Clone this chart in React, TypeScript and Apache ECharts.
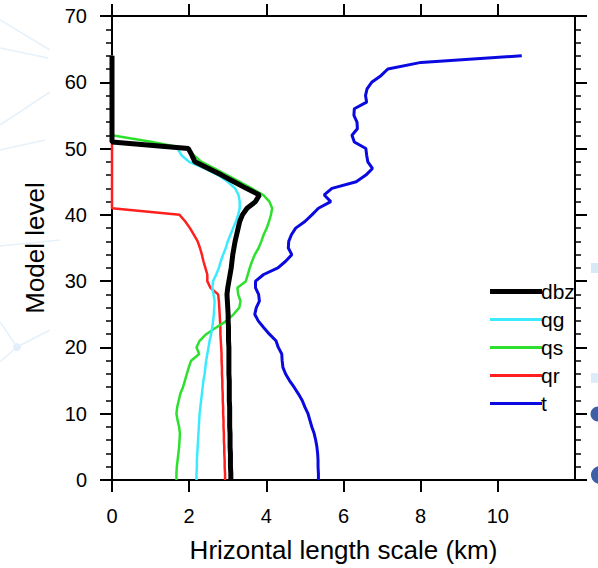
import React, { useEffect, useRef } from "react";
import * as echarts from "echarts";

// Model levels (y values)
const levels = [
  0, 1, 2, 3, 4, 5, 6, 7, 8, 9, 10, 11, 12, 13, 14, 15, 16, 17, 18, 19, 20,
  21, 22, 23, 24, 25, 26, 27, 28, 29, 30, 31, 32, 33, 34, 35, 36, 37, 38, 39,
  40, 41, 42, 43, 44, 45, 46, 47, 48, 49, 50, 51, 52, 53, 54, 55, 56, 57, 58,
  59, 60, 61, 62, 63, 64,
];

// Horizontal length scale (km) per model level
const dbz = [
  3.08, 3.08, 3.07, 3.07, 3.07, 3.06, 3.06, 3.06, 3.05, 3.05, 3.05, 3.05, 3.04,
  3.04, 3.04, 3.04, 3.03, 3.03, 3.03, 3.03, 3.03, 3.02, 3.02, 3.02, 3.01, 3.01,
  3.0, 2.99, 2.98, 3.0, 3.03, 3.06, 3.09, 3.11, 3.13, 3.16, 3.19, 3.23, 3.27,
  3.31, 3.38, 3.5, 3.72, 3.82, 3.48, 3.16, 2.84, 2.5, 2.15, 2.07, 1.98, 0, 0,
  0, 0, 0, 0, 0, 0, 0, 0, 0, 0, 0, 0,
];
const qg = [
  2.19, 2.19, 2.2, 2.2, 2.21, 2.22, 2.23, 2.24, 2.25, 2.26, 2.27, 2.29, 2.31,
  2.33, 2.35, 2.37, 2.4, 2.42, 2.44, 2.47, 2.5, 2.53, 2.57, 2.6, 2.62, 2.64,
  2.65, 2.66, 2.63, 2.6, 2.62, 2.7, 2.77, 2.82, 2.88, 2.95, 3.0, 3.07, 3.14,
  3.21, 3.27, 3.31, 3.31, 3.28, 3.19, 3.0, 2.75, 2.4, 2.0, 1.8, 1.7, 0, 0, 0,
  0, 0, 0, 0, 0, 0, 0, 0, 0, 0, 0,
];
const qs = [
  1.67, 1.67, 1.68, 1.7, 1.72, 1.74, 1.75, 1.76, 1.74, 1.7, 1.67, 1.69, 1.73,
  1.77, 1.84, 1.89, 1.94, 1.99, 2.05, 2.26, 2.19, 2.27, 2.44, 2.7, 2.97, 3.15,
  3.3, 3.33, 3.27, 3.25, 3.47, 3.52, 3.57, 3.63, 3.7, 3.8, 3.87, 3.93, 4.01,
  4.07, 4.12, 4.15, 4.08, 3.92, 3.62, 3.3, 2.98, 2.65, 2.32, 2.12, 1.92, 1.04,
  0, 0, 0, 0, 0, 0, 0, 0, 0, 0, 0, 0, 0,
];
const qr = [
  2.93, 2.93, 2.92, 2.92, 2.91, 2.91, 2.9, 2.9, 2.89, 2.89, 2.88, 2.88, 2.87,
  2.87, 2.86, 2.86, 2.85, 2.85, 2.84, 2.84, 2.83, 2.82, 2.81, 2.81, 2.8, 2.79,
  2.78, 2.77, 2.75, 2.55, 2.47, 2.47, 2.42, 2.37, 2.33, 2.28, 2.22, 2.12, 2.02,
  1.9, 1.75, 0, 0, 0, 0, 0, 0, 0, 0, 0, 0, 0, 0, 0, 0, 0, 0, 0, 0, 0, 0, 0, 0,
  0, 0,
];
const t = [
  5.35, 5.35, 5.34, 5.34, 5.33, 5.31, 5.28, 5.24, 5.18, 5.13, 5.08, 5.0, 4.93,
  4.83, 4.72, 4.6, 4.5, 4.43, 4.41, 4.4, 4.31, 4.25, 4.08, 3.93, 3.79, 3.7,
  3.74, 3.82, 3.8, 3.72, 3.72, 3.93, 4.3, 4.5, 4.66, 4.57, 4.58, 4.65, 4.76,
  5.0, 5.18, 5.35, 5.67, 5.5, 5.7, 6.33, 6.58, 6.75, 6.63, 6.6, 6.58, 6.28,
  6.22, 6.36, 6.35, 6.27, 6.28, 6.6, 6.57, 6.61, 6.73, 6.97, 7.15, 8.01, 10.62,
];

const xTickValues = [0, 2, 4, 6, 8, 10];

export default function App() {
  const ref = useRef<HTMLDivElement>(null);

  useEffect(() => {
    const chart = echarts.init(ref.current!, null, { renderer: "svg" });
    const font = "'Liberation Sans', Arial, Helvetica, sans-serif";
    const pairs = (vals: number[]) => levels.map((lv, i) => [vals[i], lv]);
    const black = "#000";

    const xAxisBase = {
      type: "value",
      min: 0,
      max: 12,
      interval: 2,
      axisLine: { show: true, onZero: false, lineStyle: { color: black, width: 2 } },
      axisTick: {
        show: true,
        inside: false,
        length: 12,
        customValues: xTickValues,
        lineStyle: { color: black, width: 2 },
      },
      splitLine: { show: false },
    };
    const yAxisBase = {
      type: "value",
      min: 0,
      max: 70,
      interval: 10,
      axisLine: { show: true, onZero: false, lineStyle: { color: black, width: 2 } },
      axisTick: { show: true, inside: false, length: 12, lineStyle: { color: black, width: 2 } },
      minorTick: { show: true, splitNumber: 5, length: 6, lineStyle: { color: black, width: 1.5 } },
      splitLine: { show: false },
      minorSplitLine: { show: false },
    };

    const faint = "#e6f1fa";
    chart.setOption({
      animation: false,
      backgroundColor: "#ffffff",
      grid: { left: 112, right: 23, top: 16, bottom: 88, containLabel: false },
      graphic: [
        { type: "polyline", z: 0, shape: { points: [[0, 20], [50, 50]] }, style: { stroke: faint, lineWidth: 1.5, fill: null } },
        { type: "polyline", z: 0, shape: { points: [[0, 48], [48, 58]] }, style: { stroke: faint, lineWidth: 1.5, fill: null } },
        { type: "polyline", z: 0, shape: { points: [[0, 125], [50, 92]] }, style: { stroke: faint, lineWidth: 1.5, fill: null } },
        { type: "polyline", z: 0, shape: { points: [[0, 150], [45, 140]] }, style: { stroke: faint, lineWidth: 1.5, fill: null } },
        { type: "polyline", z: 0, shape: { points: [[0, 246], [60, 240]] }, style: { stroke: faint, lineWidth: 1.5, fill: null } },
        { type: "polyline", z: 0, shape: { points: [[0, 322], [17, 347], [0, 362]] }, style: { stroke: faint, lineWidth: 1.5, fill: null } },
        { type: "polyline", z: 0, shape: { points: [[17, 347], [50, 330]] }, style: { stroke: faint, lineWidth: 1.5, fill: null } },
        { type: "circle", z: 0, shape: { cx: 17, cy: 347, r: 4 }, style: { fill: "#e2effa" } },
        { type: "rect", z: 0, shape: { x: 591, y: 263, width: 10, height: 10 }, style: { fill: "#d6e9f7" } },
        { type: "rect", z: 0, shape: { x: 591, y: 373, width: 10, height: 10 }, style: { fill: "#dcecf8" } },
        { type: "circle", z: 0, shape: { cx: 598, cy: 414, r: 7.5 }, style: { fill: "#3d5fa8" } },
        { type: "circle", z: 0, shape: { cx: 600, cy: 475, r: 9 }, style: { fill: "#3d5fa8" } },
      ],
      legend: {
        orient: "vertical",
        left: 485,
        top: 276,
        itemWidth: 52,
        itemHeight: 6,
        itemGap: 7,
        selectedMode: false,
        textStyle: {
          fontSize: 21,
          lineHeight: 20,
          color: black,
          fontFamily: font,
          padding: [0, 0, 0, -6],
        },
        data: [
          { name: "dbz", icon: "path://M0,0H52V5H0Z" },
          { name: "qg", icon: "path://M0,0H52V3H0Z" },
          { name: "qs", icon: "path://M0,0H52V3H0Z" },
          { name: "qr", icon: "path://M0,0H52V3H0Z" },
          { name: "t", icon: "path://M0,0H52V3H0Z" },
        ],
      },
      xAxis: [
        {
          ...xAxisBase,
          position: "bottom",
          axisLabel: {
            show: true,
            margin: 26,
            fontSize: 20,
            color: black,
            fontFamily: font,
            customValues: xTickValues,
            formatter: (v: number) => (v >= 12 ? "" : String(v)),
          },
          name: "Hrizontal length scale (km)",
          nameLocation: "middle",
          nameGap: 57,
          nameTextStyle: { fontSize: 26, color: black, fontFamily: font },
        },
        { ...xAxisBase, position: "top", axisLabel: { show: false } },
      ],
      yAxis: [
        {
          ...yAxisBase,
          position: "left",
          axisLabel: { show: true, margin: 25, fontSize: 20, color: black, fontFamily: font },
          name: "Model level",
          nameLocation: "middle",
          nameGap: 64,
          nameTextStyle: { fontSize: 26, color: black, fontFamily: font },
        },
        { ...yAxisBase, position: "right", axisLabel: { show: false } },
      ],
      series: [
        { name: "qr", type: "line", data: pairs(qr), symbol: "none", color: "#ff1f1f", lineStyle: { width: 2.5, color: "#ff1f1f" }, z: 3 },
        { name: "qs", type: "line", data: pairs(qs), symbol: "none", color: "#2ee02e", lineStyle: { width: 2.5, color: "#2ee02e" }, z: 3 },
        { name: "qg", type: "line", data: pairs(qg), symbol: "none", color: "#3ceaff", lineStyle: { width: 2.5, color: "#3ceaff" }, z: 3 },
        { name: "t", type: "line", data: pairs(t), symbol: "none", color: "#0a0ae0", lineStyle: { width: 3, color: "#0a0ae0" }, z: 3 },
        { name: "dbz", type: "line", data: pairs(dbz), symbol: "none", color: "#000000", lineStyle: { width: 5, color: "#000000" }, z: 4 },
      ],
    });
    return () => chart.dispose();
  }, []);

  return (
    <div
      ref={ref}
      style={{ position: "absolute", left: 0, top: 0, width: 598, height: 568, background: "#fff" }}
    />
  );
}
